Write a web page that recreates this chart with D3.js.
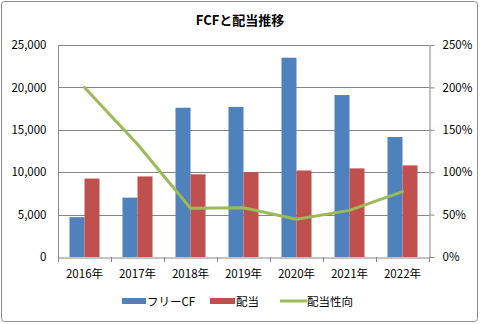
<!DOCTYPE html>
<html><head><meta charset="utf-8">
<script src="https://cdn.jsdelivr.net/npm/d3@7"></script>
<style>body{margin:0;background:#fff}svg{display:block}text{font-family:"Noto Sans CJK JP","Noto Sans",sans-serif;fill:#000}</style>
</head><body><svg id="c" width="480" height="324"></svg>
<script>
const categories = ["2016年","2017年","2018年","2019年","2020年","2021年","2022年"];
const fcf = [4700, 7000, 17600, 17700, 23500, 19100, 14150];
const dividend = [9250, 9500, 9750, 10000, 10200, 10450, 10800];
const payoutRatio = [2.00, 1.33, 0.575, 0.58, 0.445, 0.55, 0.77];
const leftTicks = [0, 5000, 10000, 15000, 20000, 25000];
const rightTicks = [0, 0.5, 1.0, 1.5, 2.0, 2.5];
const seriesNames = ["フリーCF","配当","配当性向"];
const colors = ["#4F81BD","#C0504D","#9BBB59"];

const svg = d3.select("#c");
svg.append("rect").attr("x",1.5).attr("y",1.5).attr("width",476).attr("height",320).attr("rx",3)
  .attr("fill","#fff").attr("stroke","#8c8c8c").attr("stroke-width",1);

const L=58, R=429, T=45, B=257;
const x = d3.scaleBand().domain(categories).range([L,R]);
const y = d3.scaleLinear().domain([0,25000]).range([B,T]);
const y2 = d3.scaleLinear().domain([0,2.5]).range([B,T]);

// gridlines
svg.append("g").selectAll("line").data(leftTicks.slice(1)).join("line")
  .attr("x1",L).attr("x2",R).attr("y1",d=>Math.round(y(d))+0.5).attr("y2",d=>Math.round(y(d))+0.5)
  .attr("stroke","#868686").attr("stroke-width",1);

const inner = d3.scaleBand().domain([0,1]).range([0,30]);
const off = (x.bandwidth()-30)/2;
const g = svg.append("g");
g.selectAll(".b1").data(fcf).join("rect")
  .attr("x",(d,i)=>x(categories[i])+off+inner(0)).attr("width",inner.bandwidth())
  .attr("y",d=>y(d)).attr("height",d=>B-y(d)).attr("fill",colors[0]);
g.selectAll(".b2").data(dividend).join("rect")
  .attr("x",(d,i)=>x(categories[i])+off+inner(1)).attr("width",inner.bandwidth())
  .attr("y",d=>y(d)).attr("height",d=>B-y(d)).attr("fill",colors[1]);

const line = d3.line().x((d,i)=>x(categories[i])+x.bandwidth()/2).y(d=>y2(d));
svg.append("path").datum(payoutRatio).attr("d",line).attr("fill","none")
  .attr("stroke",colors[2]).attr("stroke-width",3).attr("stroke-linejoin","round").attr("stroke-linecap","round");

// axes
const axL = svg.append("g").attr("transform",`translate(${L+0.5},0)`)
  .call(d3.axisLeft(y).tickValues(leftTicks).tickFormat(d3.format(",")).tickSize(0).tickPadding(12));
const axR = svg.append("g").attr("transform",`translate(${R+0.5},0)`)
  .call(d3.axisRight(y2).tickValues(rightTicks).tickFormat(d3.format(".0%")).tickSizeInner(5).tickSizeOuter(0).tickPadding(8));
const axB = svg.append("g").attr("transform",`translate(0,${B+0.5})`)
  .call(d3.axisBottom(x).tickSize(0).tickPadding(12));
[axL,axR,axB].forEach(a=>{a.select(".domain").attr("stroke","#868686");a.selectAll("line").attr("stroke","#868686");
  a.selectAll("text").attr("font-size",11.5).attr("font-family",'"Noto Sans CJK JP",sans-serif').attr("fill","#000");});
axL.selectAll(".tick line").remove();
axL.select(".domain").attr("d",`M0,${T}V${B}`);
// bottom category separator ticks
svg.append("g").selectAll("line").data(d3.range(categories.length+1)).join("line")
  .attr("x1",i=>Math.round(L+i*x.bandwidth())+0.5).attr("x2",i=>Math.round(L+i*x.bandwidth())+0.5)
  .attr("y1",B).attr("y2",B+5).attr("stroke","#868686");

// title
svg.append("text").attr("x",240).attr("y",25).attr("text-anchor","middle")
  .attr("font-size",13).attr("font-weight","bold").text("FCFと配当推移");

// legend
const lg = svg.append("g").attr("transform","translate(0,301)");
lg.append("rect").attr("x",122).attr("y",-3).attr("width",24).attr("height",6).attr("fill",colors[0]);
lg.append("text").attr("x",147).attr("y",4.5).attr("font-size",11.5).text(seriesNames[0]);
lg.append("rect").attr("x",210).attr("y",-3).attr("width",25).attr("height",6).attr("fill",colors[1]);
lg.append("text").attr("x",236).attr("y",4.5).attr("font-size",11.5).text(seriesNames[1]);
lg.append("line").attr("x1",280).attr("x2",307).attr("y1",0).attr("y2",0).attr("stroke",colors[2]).attr("stroke-width",3);
lg.append("text").attr("x",307).attr("y",4.5).attr("font-size",11.5).text(seriesNames[2]);
</script></body></html>
